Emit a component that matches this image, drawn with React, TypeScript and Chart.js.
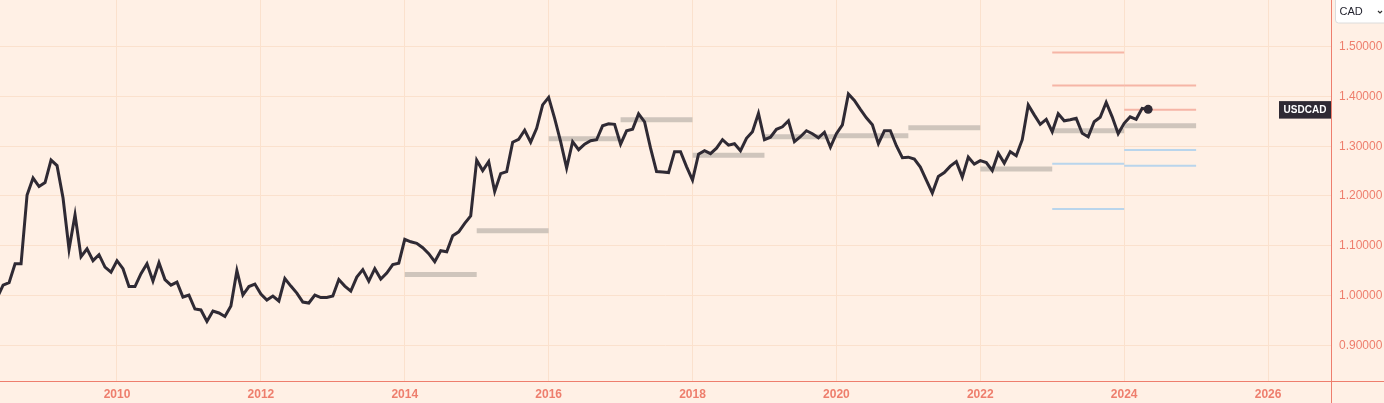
import React, { useEffect, useRef } from "react";
import { Chart, registerables } from "chart.js";

Chart.register(...registerables);

// ---- Data ----
const seriesStartYear = 2008;
const seriesStartMonth = 5; // May 2008, monthly observations
const usdcadMonthly = [
  0.995,
  1.021, 1.026, 1.064, 1.064, 1.202, 1.236, 1.219, 1.227, 1.272, 1.261, 1.196, 1.093,
  1.162, 1.078, 1.094, 1.070, 1.082, 1.057, 1.047, 1.070, 1.054, 1.018, 1.018, 1.044,
  1.064, 1.029, 1.066, 1.032, 1.021, 1.027, 0.997, 1.001, 0.973, 0.971, 0.948, 0.969,
  0.965, 0.958, 0.979, 1.050, 1.001, 1.018, 1.023, 1.003, 0.991, 0.999, 0.989, 1.034,
  1.019, 1.005, 0.987, 0.985, 1.001, 0.996, 0.996, 0.999, 1.032, 1.019, 1.009, 1.037,
  1.052, 1.029, 1.054, 1.033, 1.045, 1.062, 1.065, 1.113, 1.108, 1.105, 1.096, 1.084,
  1.068, 1.090, 1.088, 1.120, 1.128, 1.145, 1.160, 1.272, 1.251, 1.269, 1.209, 1.245,
  1.249, 1.308, 1.314, 1.332, 1.308, 1.336, 1.383, 1.398, 1.356, 1.309, 1.256, 1.309,
  1.293, 1.304, 1.311, 1.313, 1.341, 1.345, 1.344, 1.304, 1.331, 1.334, 1.365, 1.349,
  1.296, 1.249, 1.248, 1.247, 1.289, 1.289, 1.259, 1.232, 1.284, 1.291, 1.285, 1.296,
  1.313, 1.302, 1.305, 1.291, 1.316, 1.329, 1.366, 1.313, 1.318, 1.334, 1.339, 1.351,
  1.309, 1.319, 1.331, 1.325, 1.317, 1.328, 1.298, 1.325, 1.343, 1.405, 1.392, 1.374,
  1.357, 1.343, 1.305, 1.331, 1.331, 1.301, 1.277, 1.278, 1.274, 1.258, 1.232, 1.206,
  1.239, 1.247, 1.260, 1.269, 1.238, 1.278, 1.264, 1.271, 1.267, 1.251, 1.286, 1.266,
  1.289, 1.281, 1.313, 1.383, 1.363, 1.344, 1.354, 1.329, 1.365, 1.351, 1.353, 1.356,
  1.326, 1.319, 1.349, 1.358, 1.388, 1.359, 1.325, 1.346, 1.359, 1.354, 1.376, 1.374,
];

// Annual average bars (grey)
const avgYears = [2014, 2015, 2016, 2017, 2018, 2019, 2020, 2021, 2022, 2023, 2024];
const avgValues = [1.042, 1.130, 1.315, 1.353, 1.282, 1.319, 1.321, 1.337, 1.254, 1.331, 1.341];

// Forecast highs (red) and lows (blue)
const highYears = [2023, 2023, 2024, 2024];
const highValues = [1.488, 1.422, 1.422, 1.373];
const lowYears = [2023, 2023, 2024, 2024];
const lowValues = [1.2645, 1.174, 1.2926, 1.2605];

const xTickYears = [2010, 2012, 2014, 2016, 2018, 2020, 2022, 2024, 2026];
const yTickValues = [0.9, 1.0, 1.1, 1.2, 1.3, 1.4, 1.5];
const seriesLabel = "USDCAD";
const currencyLabel = "CAD";

// ---- Styles ----
const BG = "#fff0e5";
const GRID = "#fbe1cd";
const AXIS = "#ee7e6d";
const LINE = "#2f2a34";
const GREY = "#cfc5bc";
const RED = "#f6b5a6";
const BLUE = "#b9d5ec";
const FONT = "'Liberation Sans', Arial, sans-serif";

const X_MIN = 2008.3737;
const X_MAX = 2026.875;
const Y_MIN = 0.8283;
const Y_MAX = 1.5937;

export default function App() {
  const ref = useRef<HTMLCanvasElement>(null);

  useEffect(() => {
    document.body.style.margin = "0";
    document.body.style.background = BG;
    const canvas = ref.current;
    if (!canvas) return;

    const lineData = usdcadMonthly.map((v, i) => ({
      x: seriesStartYear + (seriesStartMonth - 1) / 12 + i / 12,
      y: v,
    }));
    const lastIdx = lineData.length - 1;

    const seg = (year: number, value: number, color: string, width: number, order: number) => ({
      type: "line" as const,
      data: [
        { x: year, y: value },
        { x: year + 1, y: value },
      ],
      borderColor: color,
      borderWidth: width,
      borderCapStyle: "butt" as const,
      pointRadius: 0,
      fill: false,
      order,
    });

    const datasets: any[] = [
      {
        type: "line",
        label: seriesLabel,
        data: lineData,
        borderColor: LINE,
        backgroundColor: LINE,
        borderWidth: 3,
        tension: 0,
        fill: false,
        pointRadius: (ctx: any) => (ctx.dataIndex === lastIdx ? 4.5 : 0),
        pointBackgroundColor: LINE,
        pointBorderWidth: 0,
        order: 0,
      },
      ...avgYears.map((y, i) => seg(y, avgValues[i], GREY, 5, 2)),
      ...highYears.map((y, i) => seg(y, highValues[i], RED, 2, 1)),
      ...lowYears.map((y, i) => seg(y, lowValues[i], BLUE, 2, 1)),
    ];

    const decor = {
      id: "decor",
      beforeDraw(chart: any) {
        const c = chart.ctx;
        c.save();
        c.fillStyle = BG;
        c.fillRect(0, 0, chart.width, chart.height);
        c.restore();
      },
      afterDraw(chart: any) {
        const c = chart.ctx;
        const area = chart.chartArea;
        c.save();
        // axis lines
        c.strokeStyle = AXIS;
        c.lineWidth = 1;
        c.beginPath();
        c.moveTo(Math.round(area.right) + 0.5, 0);
        c.lineTo(Math.round(area.right) + 0.5, chart.height);
        c.moveTo(0, Math.round(area.bottom) + 0.5);
        c.lineTo(chart.width, Math.round(area.bottom) + 0.5);
        c.stroke();

        // series label at last value
        const yScale = chart.scales.y;
        const ly = yScale.getPixelForValue(usdcadMonthly[lastIdx]);
        c.fillStyle = LINE;
        const lw = 52;
        const lh = 17.5;
        c.fillRect(Math.round(area.right) - lw, ly - lh / 2 + 0.5, lw, lh);
        c.fillStyle = "#ffffff";
        c.font = `bold 10px ${FONT}`;
        c.textAlign = "center";
        c.textBaseline = "middle";
        c.fillText(seriesLabel, Math.round(area.right) - lw / 2, ly + 1);

        // currency dropdown
        const bx = 1335.5;
        c.beginPath();
        const r = 3;
        c.moveTo(bx, -2);
        c.lineTo(bx, 23 - r);
        c.quadraticCurveTo(bx, 23, bx + r, 23);
        c.lineTo(chart.width + 2, 23);
        c.lineTo(chart.width + 2, -2);
        c.closePath();
        c.fillStyle = "#ffffff";
        c.fill();
        c.strokeStyle = "#dcdcdc";
        c.stroke();
        c.fillStyle = "#1e1e2a";
        c.font = `11px ${FONT}`;
        c.textAlign = "left";
        c.textBaseline = "middle";
        c.fillText(currencyLabel, 1339.5, 12);
        c.strokeStyle = "#333333";
        c.lineWidth = 1.2;
        c.beginPath();
        c.moveTo(1378, 11);
        c.lineTo(1380, 13);
        c.lineTo(1382, 11);
        c.stroke();
        c.restore();
      },
    };

    const chart = new Chart(canvas, {
      type: "line",
      data: { datasets },
      options: {
        responsive: false,
        animation: false,
        devicePixelRatio: 1,
        events: [],
        layout: { padding: 0, autoPadding: false },
        plugins: {
          legend: { display: false },
          tooltip: { enabled: false },
        },
        scales: {
          x: {
            type: "linear",
            position: "bottom",
            min: X_MIN,
            max: X_MAX,
            grid: { color: GRID, lineWidth: 1, drawTicks: false },
            border: { display: false },
            ticks: {
              color: AXIS,
              font: { family: FONT, size: 12, weight: "bold" },
              padding: 6,
              maxRotation: 0,
              autoSkip: false,
              callback: (v: any) => String(v),
            },
            afterBuildTicks: (s: any) => {
              s.ticks = xTickYears.map((v) => ({ value: v }));
            },
            afterFit: (s: any) => {
              s.height = 22;
              s.paddingLeft = 0;
              s.paddingRight = 0;
              s.paddingTop = 0;
              s.paddingBottom = 0;
            },
          },
          y: {
            type: "linear",
            position: "right",
            min: Y_MIN,
            max: Y_MAX,
            grid: { color: GRID, lineWidth: 1, drawTicks: false },
            border: { display: false },
            ticks: {
              color: AXIS,
              font: { family: FONT, size: 12 },
              padding: 8,
              callback: (v: any) => Number(v).toFixed(5),
            },
            afterBuildTicks: (s: any) => {
              s.ticks = yTickValues.map((v) => ({ value: v }));
            },
            afterFit: (s: any) => {
              s.width = 53;
              s.paddingTop = 0;
              s.paddingBottom = 0;
              s.paddingLeft = 0;
              s.paddingRight = 0;
            },
          },
        },
      } as any,
      plugins: [decor],
    });

    return () => chart.destroy();
  }, []);

  return (
    <div style={{ position: "relative", width: 1384, height: 403, background: BG }}>
      <canvas ref={ref} width={1384} height={403} style={{ display: "block", width: 1384, height: 403 }} />
    </div>
  );
}
